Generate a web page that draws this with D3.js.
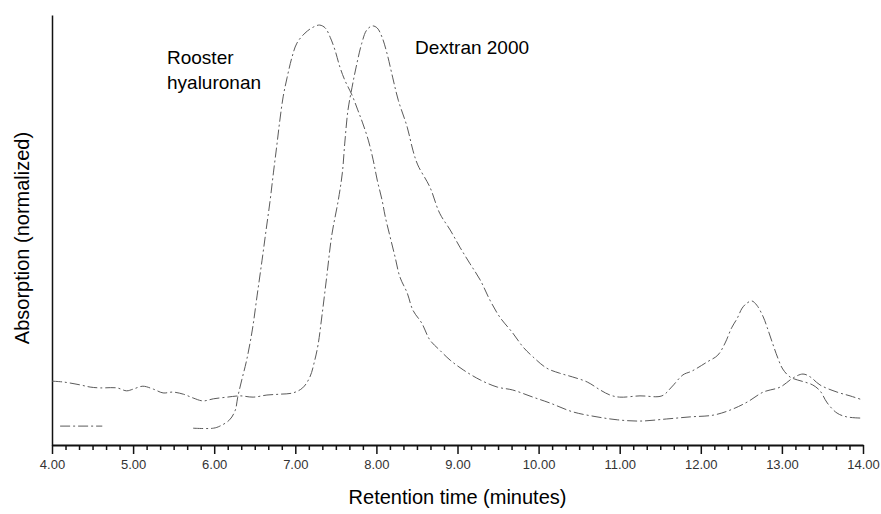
<!DOCTYPE html>
<html>
<head>
<meta charset="utf-8">
<script src="https://cdn.jsdelivr.net/npm/d3@7"></script>
<style>
  body { margin: 0; background: #fff; }
  text { font-family: "Liberation Sans", Arial, sans-serif; }
</style>
</head>
<body>
<script>
// Retention time (minutes) and normalized absorption
const dextranTime = [4.00, 4.14, 4.35, 4.47, 4.59, 4.80, 4.92, 5.00, 5.12, 5.25, 5.37, 5.49, 5.62, 5.74, 5.86, 5.99,
    6.16, 6.32, 6.48, 6.65, 6.81, 6.97, 7.09, 7.18, 7.24, 7.28, 7.33, 7.39, 7.45, 7.53, 7.58, 7.61, 7.65, 7.70,
    7.75, 7.82, 7.88, 7.95, 8.01, 8.07, 8.13, 8.20, 8.27, 8.38, 8.45, 8.51, 8.66, 8.78, 8.91, 9.03, 9.15, 9.28,
    9.40, 9.52, 9.68, 9.81, 9.93, 10.10, 10.26, 10.42, 10.60, 10.76, 10.88, 11.00, 11.25, 11.52, 11.64, 11.78,
    11.89, 12.08, 12.21, 12.30, 12.38, 12.45, 12.51, 12.57, 12.63, 12.69, 12.77, 12.82, 12.88, 12.95, 13.01,
    13.10, 13.19, 13.28, 13.38, 13.47, 13.56, 13.68, 13.80, 14.00];
const dextranAbs = [15.2, 15.0, 14.3, 13.8, 13.6, 13.6, 12.9, 13.3, 14.0, 13.3, 12.4, 12.6, 12.1, 11.2, 10.5, 11.0,
    11.4, 11.7, 11.4, 11.9, 12.1, 12.4, 13.6, 16.2, 20.2, 23.8, 31.0, 40.5, 50.0, 58.3, 64.8, 71.9, 79.8, 85.2,
    90.0, 95.7, 98.8, 99.8, 99.3, 97.1, 93.3, 87.6, 82.1, 75.7, 70.2, 66.7, 61.4, 55.2, 51.2, 47.1, 43.3, 39.3,
    34.5, 30.5, 26.7, 23.3, 21.0, 18.3, 17.1, 16.2, 15.0, 13.1, 11.9, 11.4, 11.7, 11.7, 13.8, 16.7,
    17.6, 19.8, 21.4, 24.3, 27.9, 30.2, 32.6, 33.8, 34.3, 33.3, 30.5, 27.9, 24.5, 20.7, 18.1,
    16.2, 15.5, 15.0, 14.3, 12.9, 10.0, 7.6, 6.7, 6.4];

// null = no trace drawn there
const roosterTime = [4.10, 4.62, 5.18, 5.74, 5.99, 6.07, 6.19, 6.26, 6.29, 6.34, 6.40, 6.47, 6.53, 6.59, 6.64, 6.69,
    6.73, 6.77, 6.81, 6.85, 6.90, 6.96, 7.02, 7.12, 7.22, 7.30, 7.37, 7.43, 7.49, 7.55, 7.61, 7.70, 7.77, 7.83,
    7.90, 7.96, 8.01, 8.07, 8.11, 8.17, 8.23, 8.29, 8.38, 8.45, 8.56, 8.66, 8.78, 8.91, 9.07, 9.28, 9.49, 9.68,
    9.93, 10.14, 10.42, 10.72, 10.97, 11.25, 11.58, 11.87, 12.15, 12.36, 12.57, 12.77, 12.98, 13.14, 13.26,
    13.35, 13.47, 13.68, 13.84, 14.00];
const roosterAbs = [4.5, 4.5, null, 4.0, 4.0, 4.5, 6.0, 8.3, 11.4, 15.5, 20.2, 27.4, 35.7, 44.0, 51.2, 58.3,
    64.8, 71.0, 77.4, 82.9, 87.6, 92.4, 95.7, 98.1, 99.5, 100, 99.3, 97.1, 94.0, 90.0, 86.9, 83.3, 79.8, 76.7,
    72.6, 67.9, 63.1, 58.3, 54.3, 49.5, 44.8, 40.0, 36.2, 32.1, 29.0, 25.0, 22.6, 20.2, 17.9, 15.5, 13.8, 13.1,
    11.4, 10.0, 7.9, 6.7, 6.0, 5.7, 6.2, 6.7, 7.1, 8.3, 10.2, 12.6, 13.8, 16.0, 16.9,
    16.2, 14.3, 12.6, 11.7, 10.7];

const majorTicks = [4, 5, 6, 7, 8, 9, 10, 11, 12, 13, 14];

const width = 881, height = 514;
const margin = {top: 15, right: 18, bottom: 69, left: 52};

const svg = d3.select("body").append("svg")
    .attr("width", width)
    .attr("height", height);

const x = d3.scaleLinear()
    .domain([4, 14])
    .range([margin.left, width - margin.right]);

const y = d3.scaleLinear()
    .domain([0, 102.4])
    .range([height - margin.bottom, margin.top]);

// minor ticks every 10 s
const minorTicks = d3.range(4, 14.001, 1 / 6).filter(t => Math.abs(t - Math.round(t)) > 0.01);

const xMinor = svg.append("g")
    .attr("transform", `translate(0,${height - margin.bottom})`)
    .call(d3.axisBottom(x).tickValues(minorTicks).tickSize(5).tickSizeOuter(0).tickFormat(""));
xMinor.select(".domain").remove();
xMinor.selectAll("line").attr("stroke", "#111").attr("stroke-width", 1.5);

const xAxis = svg.append("g")
    .attr("transform", `translate(0,${height - margin.bottom})`)
    .call(d3.axisBottom(x).tickValues(majorTicks).tickSize(9).tickSizeOuter(0).tickPadding(6)
        .tickFormat(d3.format(".2f")));
xAxis.select(".domain").attr("stroke", "#111").attr("stroke-width", 2);
xAxis.selectAll("line").attr("stroke", "#111").attr("stroke-width", 1.5);
xAxis.selectAll("text")
    .attr("font-size", 13)
    .attr("fill", "#333")
    .style("font-family", "Liberation Sans, Arial, sans-serif");

const yAxis = svg.append("g")
    .attr("transform", `translate(${margin.left},0)`)
    .call(d3.axisLeft(y).tickValues([]).tickSizeOuter(0));
yAxis.select(".domain").attr("stroke", "#111").attr("stroke-width", 1.5);

const line = d3.line()
    .defined(d => d[1] !== null)
    .x(d => x(d[0]))
    .y(d => y(d[1]))
    .curve(d3.curveCatmullRom);

const series = [
    dextranTime.map((t, i) => [t, dextranAbs[i]]),
    roosterTime.map((t, i) => [t, roosterAbs[i]])
];

svg.selectAll("path.trace")
    .data(series)
    .enter()
    .append("path")
    .attr("class", "trace")
    .attr("d", line)
    .attr("fill", "none")
    .attr("stroke", "#5a5a5a")
    .attr("stroke-width", 1)
    .attr("stroke-dasharray", "10,3,2,3");

// labels
svg.append("text")
    .attr("x", (margin.left + width - margin.right) / 2)
    .attr("y", 504)
    .attr("text-anchor", "middle")
    .attr("font-size", 20)
    .text("Retention time (minutes)");

svg.append("text")
    .attr("transform", `translate(29,238) rotate(-90)`)
    .attr("text-anchor", "middle")
    .attr("font-size", 20)
    .text("Absorption (normalized)");

svg.append("text")
    .attr("x", 167)
    .attr("y", 64)
    .attr("font-size", 19)
    .text("Rooster");

svg.append("text")
    .attr("x", 167)
    .attr("y", 89)
    .attr("font-size", 19)
    .text("hyaluronan");

svg.append("text")
    .attr("x", 415)
    .attr("y", 54)
    .attr("font-size", 19)
    .text("Dextran 2000");
</script>
</body>
</html>
